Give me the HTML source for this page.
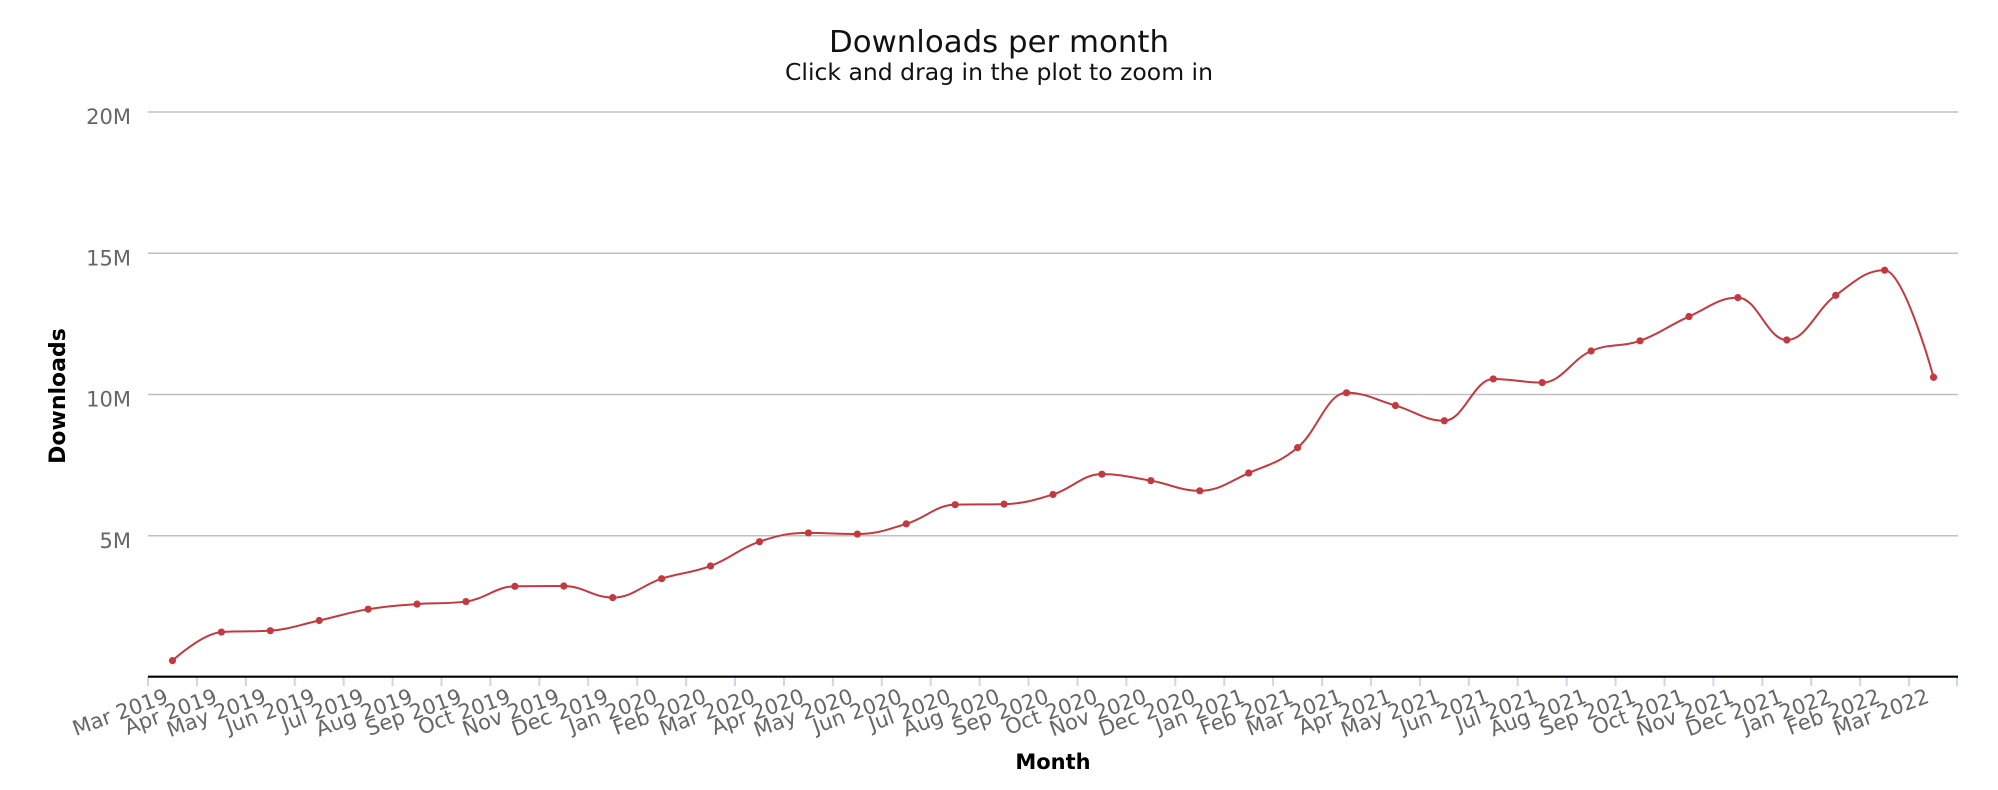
<!DOCTYPE html>
<html>
<head>
<meta charset="utf-8">
<style>
html,body{margin:0;padding:0;background:#fff;}
svg{display:block;}
text{font-family:"DejaVu Sans","Liberation Sans",sans-serif;}
</style>
</head>
<body>
<svg id="c" width="1998" height="790" viewBox="0 0 1998 790" xmlns="http://www.w3.org/2000/svg">
<rect x="0" y="0" width="1998" height="790" fill="#ffffff"/>
<!-- titles -->
<text x="999" y="52" text-anchor="middle" font-size="30" fill="#111" textLength="340" lengthAdjust="spacingAndGlyphs">Downloads per month</text>
<text x="999" y="80" text-anchor="middle" font-size="23" fill="#111" textLength="428" lengthAdjust="spacingAndGlyphs">Click and drag in the plot to zoom in</text>

<!-- grid lines -->
<g stroke="#c0c0c0" stroke-width="1.6" fill="none">
<path d="M148 112H1958"/>
<path d="M148 253.25H1958"/>
<path d="M148 394.5H1958"/>
<path d="M148 535.75H1958"/>
</g>

<!-- y labels -->
<g font-size="21" fill="#666" text-anchor="end">
<text x="131" y="124">20M</text>
<text x="131" y="265.5">15M</text>
<text x="131" y="406.5">10M</text>
<text x="131" y="548">5M</text>
</g>

<!-- y axis title -->
<text x="65" y="396" font-size="22" font-weight="bold" fill="#000" text-anchor="middle" transform="rotate(-90 65 396)">Downloads</text>

<!-- ticks -->
<path stroke="#ccd6eb" stroke-width="2" fill="none" d="M148 677V686M196.92 677V686M245.84 677V686M294.76 677V686M343.68 677V686M392.6 677V686M441.51 677V686M490.43 677V686M539.35 677V686M588.27 677V686M637.19 677V686M686.11 677V686M735.03 677V686M783.95 677V686M832.87 677V686M881.79 677V686M930.7 677V686M979.62 677V686M1028.54 677V686M1077.46 677V686M1126.38 677V686M1175.3 677V686M1224.22 677V686M1273.14 677V686M1322.06 677V686M1370.98 677V686M1419.89 677V686M1468.81 677V686M1517.73 677V686M1566.65 677V686M1615.57 677V686M1664.49 677V686M1713.41 677V686M1762.33 677V686M1811.25 677V686M1860.17 677V686M1909.08 677V686M1957 677V686"/>

<!-- x axis line -->
<path d="M148 676.7H1958" stroke="#000" stroke-width="2.2" fill="none"/>

<!-- x labels -->
<g font-size="21" fill="#666" text-anchor="end">
<text transform="translate(169.5 702) rotate(-20)">Mar 2019</text>
<text transform="translate(218.4 702) rotate(-20)">Apr 2019</text>
<text transform="translate(267.3 702) rotate(-20)">May 2019</text>
<text transform="translate(316.2 702) rotate(-20)">Jun 2019</text>
<text transform="translate(365.1 702) rotate(-20)">Jul 2019</text>
<text transform="translate(414.1 702) rotate(-20)">Aug 2019</text>
<text transform="translate(463.0 702) rotate(-20)">Sep 2019</text>
<text transform="translate(511.9 702) rotate(-20)">Oct 2019</text>
<text transform="translate(560.8 702) rotate(-20)">Nov 2019</text>
<text transform="translate(609.7 702) rotate(-20)">Dec 2019</text>
<text transform="translate(658.7 702) rotate(-20)">Jan 2020</text>
<text transform="translate(707.6 702) rotate(-20)">Feb 2020</text>
<text transform="translate(756.5 702) rotate(-20)">Mar 2020</text>
<text transform="translate(805.4 702) rotate(-20)">Apr 2020</text>
<text transform="translate(854.3 702) rotate(-20)">May 2020</text>
<text transform="translate(903.3 702) rotate(-20)">Jun 2020</text>
<text transform="translate(952.2 702) rotate(-20)">Jul 2020</text>
<text transform="translate(1001.1 702) rotate(-20)">Aug 2020</text>
<text transform="translate(1050.0 702) rotate(-20)">Sep 2020</text>
<text transform="translate(1098.9 702) rotate(-20)">Oct 2020</text>
<text transform="translate(1147.8 702) rotate(-20)">Nov 2020</text>
<text transform="translate(1196.8 702) rotate(-20)">Dec 2020</text>
<text transform="translate(1245.7 702) rotate(-20)">Jan 2021</text>
<text transform="translate(1294.6 702) rotate(-20)">Feb 2021</text>
<text transform="translate(1343.5 702) rotate(-20)">Mar 2021</text>
<text transform="translate(1392.4 702) rotate(-20)">Apr 2021</text>
<text transform="translate(1441.4 702) rotate(-20)">May 2021</text>
<text transform="translate(1490.3 702) rotate(-20)">Jun 2021</text>
<text transform="translate(1539.2 702) rotate(-20)">Jul 2021</text>
<text transform="translate(1588.1 702) rotate(-20)">Aug 2021</text>
<text transform="translate(1637.0 702) rotate(-20)">Sep 2021</text>
<text transform="translate(1686.0 702) rotate(-20)">Oct 2021</text>
<text transform="translate(1734.9 702) rotate(-20)">Nov 2021</text>
<text transform="translate(1783.8 702) rotate(-20)">Dec 2021</text>
<text transform="translate(1832.7 702) rotate(-20)">Jan 2022</text>
<text transform="translate(1881.6 702) rotate(-20)">Feb 2022</text>
<text transform="translate(1930.5 702) rotate(-20)">Mar 2022</text>
</g>

<!-- x axis title -->
<text x="1053" y="769" font-size="21" font-weight="bold" fill="#000" text-anchor="middle">Month</text>

<!-- series -->
<path id="series" fill="none" stroke="#c23a3f" stroke-width="2" stroke-linejoin="round" stroke-linecap="round"
d="M172.46 660.6L221.38 632L270.3 630.6L319.22 620.4L368.14 609.1L417.06 604L465.97 601.4L514.89 586.2L563.81 586.2L612.73 597.5L661.65 578.5L710.57 565.8L759.49 541.4L808.41 532.7L857.33 533.8L906.25 523.6L955.16 504.4L1004.08 503.8L1053 494.2L1101.92 473.8L1150.84 480.3L1199.76 490.5L1248.68 472.7L1297.6 447.2L1346.52 392.3L1395.44 405L1444.35 420.3L1493.27 378.4L1542.19 382.1L1591.11 350.4L1640.03 340.2L1688.95 315.9L1737.87 297L1786.79 339.4L1835.71 294.7L1884.63 269.5L1933.54 376.7"/>
<g id="markers" fill="#c23a3f"></g>
</svg>
<script>
(function(){
  var vals=[0.58,1.59,1.64,2.0,2.4,2.58,2.67,3.21,3.22,2.81,3.48,3.93,4.79,5.1,5.06,5.42,6.1,6.12,6.46,7.18,6.95,6.59,7.22,8.12,10.06,9.61,9.07,10.55,10.42,11.54,11.9,12.76,13.43,11.93,13.51,14.40,10.61];
  var d=48.919, x0=172.46, y0=677, k=28.25;
  var pts=vals.map(function(v,i){return {x:x0+d*i,y:y0-k*v};});
  function cont(i){
    var p=pts[i],l=pts[i-1],n=pts[i+1],sm=1.5,den=2.5;
    var lx=(sm*p.x+l.x)/den, ly=(sm*p.y+l.y)/den, rx=(sm*p.x+n.x)/den, ry=(sm*p.y+n.y)/den;
    if(rx!==lx){var c=((ry-ly)*(rx-p.x))/(rx-lx)+p.y-ry; ly+=c; ry+=c;}
    if(ly>l.y&&ly>p.y){ly=Math.max(l.y,p.y);ry=2*p.y-ly;}
    else if(ly<l.y&&ly<p.y){ly=Math.min(l.y,p.y);ry=2*p.y-ly;}
    if(ry>n.y&&ry>p.y){ry=Math.max(n.y,p.y);ly=2*p.y-ry;}
    else if(ry<n.y&&ry<p.y){ry=Math.min(n.y,p.y);ly=2*p.y-ry;}
    return {lx:lx,ly:ly,rx:rx,ry:ry};
  }
  var n=pts.length, cs=[];
  for(var i=0;i<n;i++){
    if(i===0||i===n-1){cs.push({lx:pts[i].x,ly:pts[i].y,rx:pts[i].x,ry:pts[i].y});}
    else cs.push(cont(i));
  }
  var s='M'+pts[0].x.toFixed(2)+' '+pts[0].y.toFixed(2);
  for(var j=1;j<n;j++){
    s+='C'+cs[j-1].rx.toFixed(2)+' '+cs[j-1].ry.toFixed(2)+' '+cs[j].lx.toFixed(2)+' '+cs[j].ly.toFixed(2)+' '+pts[j].x.toFixed(2)+' '+pts[j].y.toFixed(2);
  }
  document.getElementById('series').setAttribute('d',s);
  var g=document.getElementById('markers'), ns='http://www.w3.org/2000/svg';
  pts.forEach(function(p){
    var c=document.createElementNS(ns,'circle');
    c.setAttribute('cx',p.x.toFixed(2));c.setAttribute('cy',p.y.toFixed(2));c.setAttribute('r','3.6');
    g.appendChild(c);
  });
})();
</script>
</body>
</html>
